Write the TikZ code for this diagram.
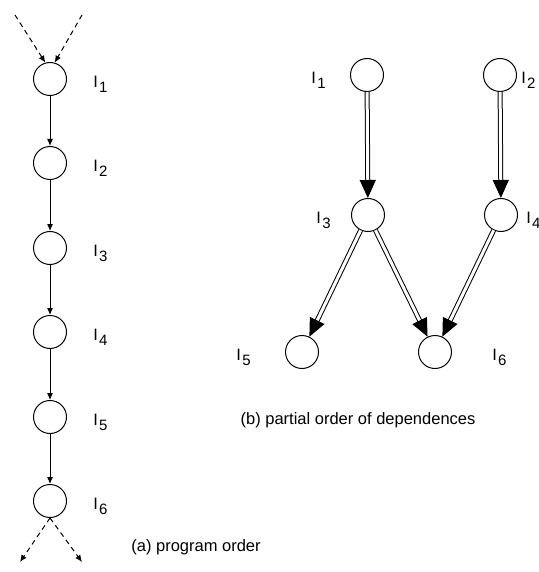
\documentclass[tikz,border=0pt]{standalone}
\usepackage{fontspec}
\setmainfont{Liberation Sans}
\usetikzlibrary{arrows.meta,positioning}
\newcommand{\instrname}[1]{I\kern0.6pt\raisebox{-2.5pt}{\fontsize{7.5}{8}\selectfont #1}}

\begin{document}
\begin{tikzpicture}[x=0.5pt,y=-0.5pt,
    instr/.style={circle,draw,line width=0.5pt,minimum size=16.5pt,inner sep=0pt},
    lbl/.style={inner sep=0pt,font=\fontsize{8.25}{10}\selectfont},
    seq/.style={line width=0.5pt,-{Latex[length=3.5pt,width=3pt]}},
    seqdash/.style={seq,dash pattern=on 2.5pt off 2pt},
    dep/.style={double,double distance=1.5pt,line width=0.5pt,-{Triangle[length=9pt,width=8pt]}}]
\useasboundingbox (0,0) rectangle (539,572);

% (a) program order
\foreach \i/\y in {1/79,2/163,3/248,4/332,5/417,6/501}{
  \node[instr] (L\i) at (50,\y) {};
  \node[lbl,right=13pt of L\i,yshift=-2.5pt] (l\i) {\instrname{\i}};
}
\foreach \i/\j in {1/2,2/3,3/4,4/5,5/6}
  \draw[seq] (L\i) -- (L\j);
\coordinate (in1) at (15,15);
\coordinate (in2) at (82,15);
\coordinate (out1) at (20,562);
\coordinate (out2) at (82,562);
\draw[seqdash] (in1) -- (L1.106);
\draw[seqdash] (in2) -- (L1.74);
\draw[seqdash] (L6.south) -- (out1);
\draw[seqdash] (L6.south) -- (out2);
\node[lbl] (capa) at (196,547) {(a) program order};

% (b) partial order of dependences
\node[instr] (R1) at (367,75) {};
\node[instr] (R2) at (500,75) {};
\node[instr] (R3) at (368,215) {};
\node[instr] (R4) at (501,215) {};
\node[instr] (R5) at (302,352) {};
\node[instr] (R6) at (435,352) {};
\node[lbl,left=12pt of R1,yshift=-2.5pt] (r1) {\instrname{1}};
\node[lbl,right=2pt of R2,yshift=-2.5pt] (r2) {\instrname{2}};
\node[lbl,left=10pt of R3,yshift=-2.5pt] (r3) {\instrname{3}};
\node[lbl,right=4pt of R4,yshift=-2.5pt] (r4) {\instrname{4}};
\node[lbl,left=17pt of R5,yshift=-2.5pt] (r5) {\instrname{5}};
\node[lbl,right=20pt of R6,yshift=-2.5pt] (r6) {\instrname{6}};
\draw[dep] (R1) -- (R3);
\draw[dep] (R2) -- (R4);
\draw[dep] (R3) -- (R5);
\draw[dep] (R3) -- (R6);
\draw[dep] (R4) -- (R6);
\node[lbl] (capb) at (358,420) {(b) partial order of dependences};
\end{tikzpicture}
\end{document}
